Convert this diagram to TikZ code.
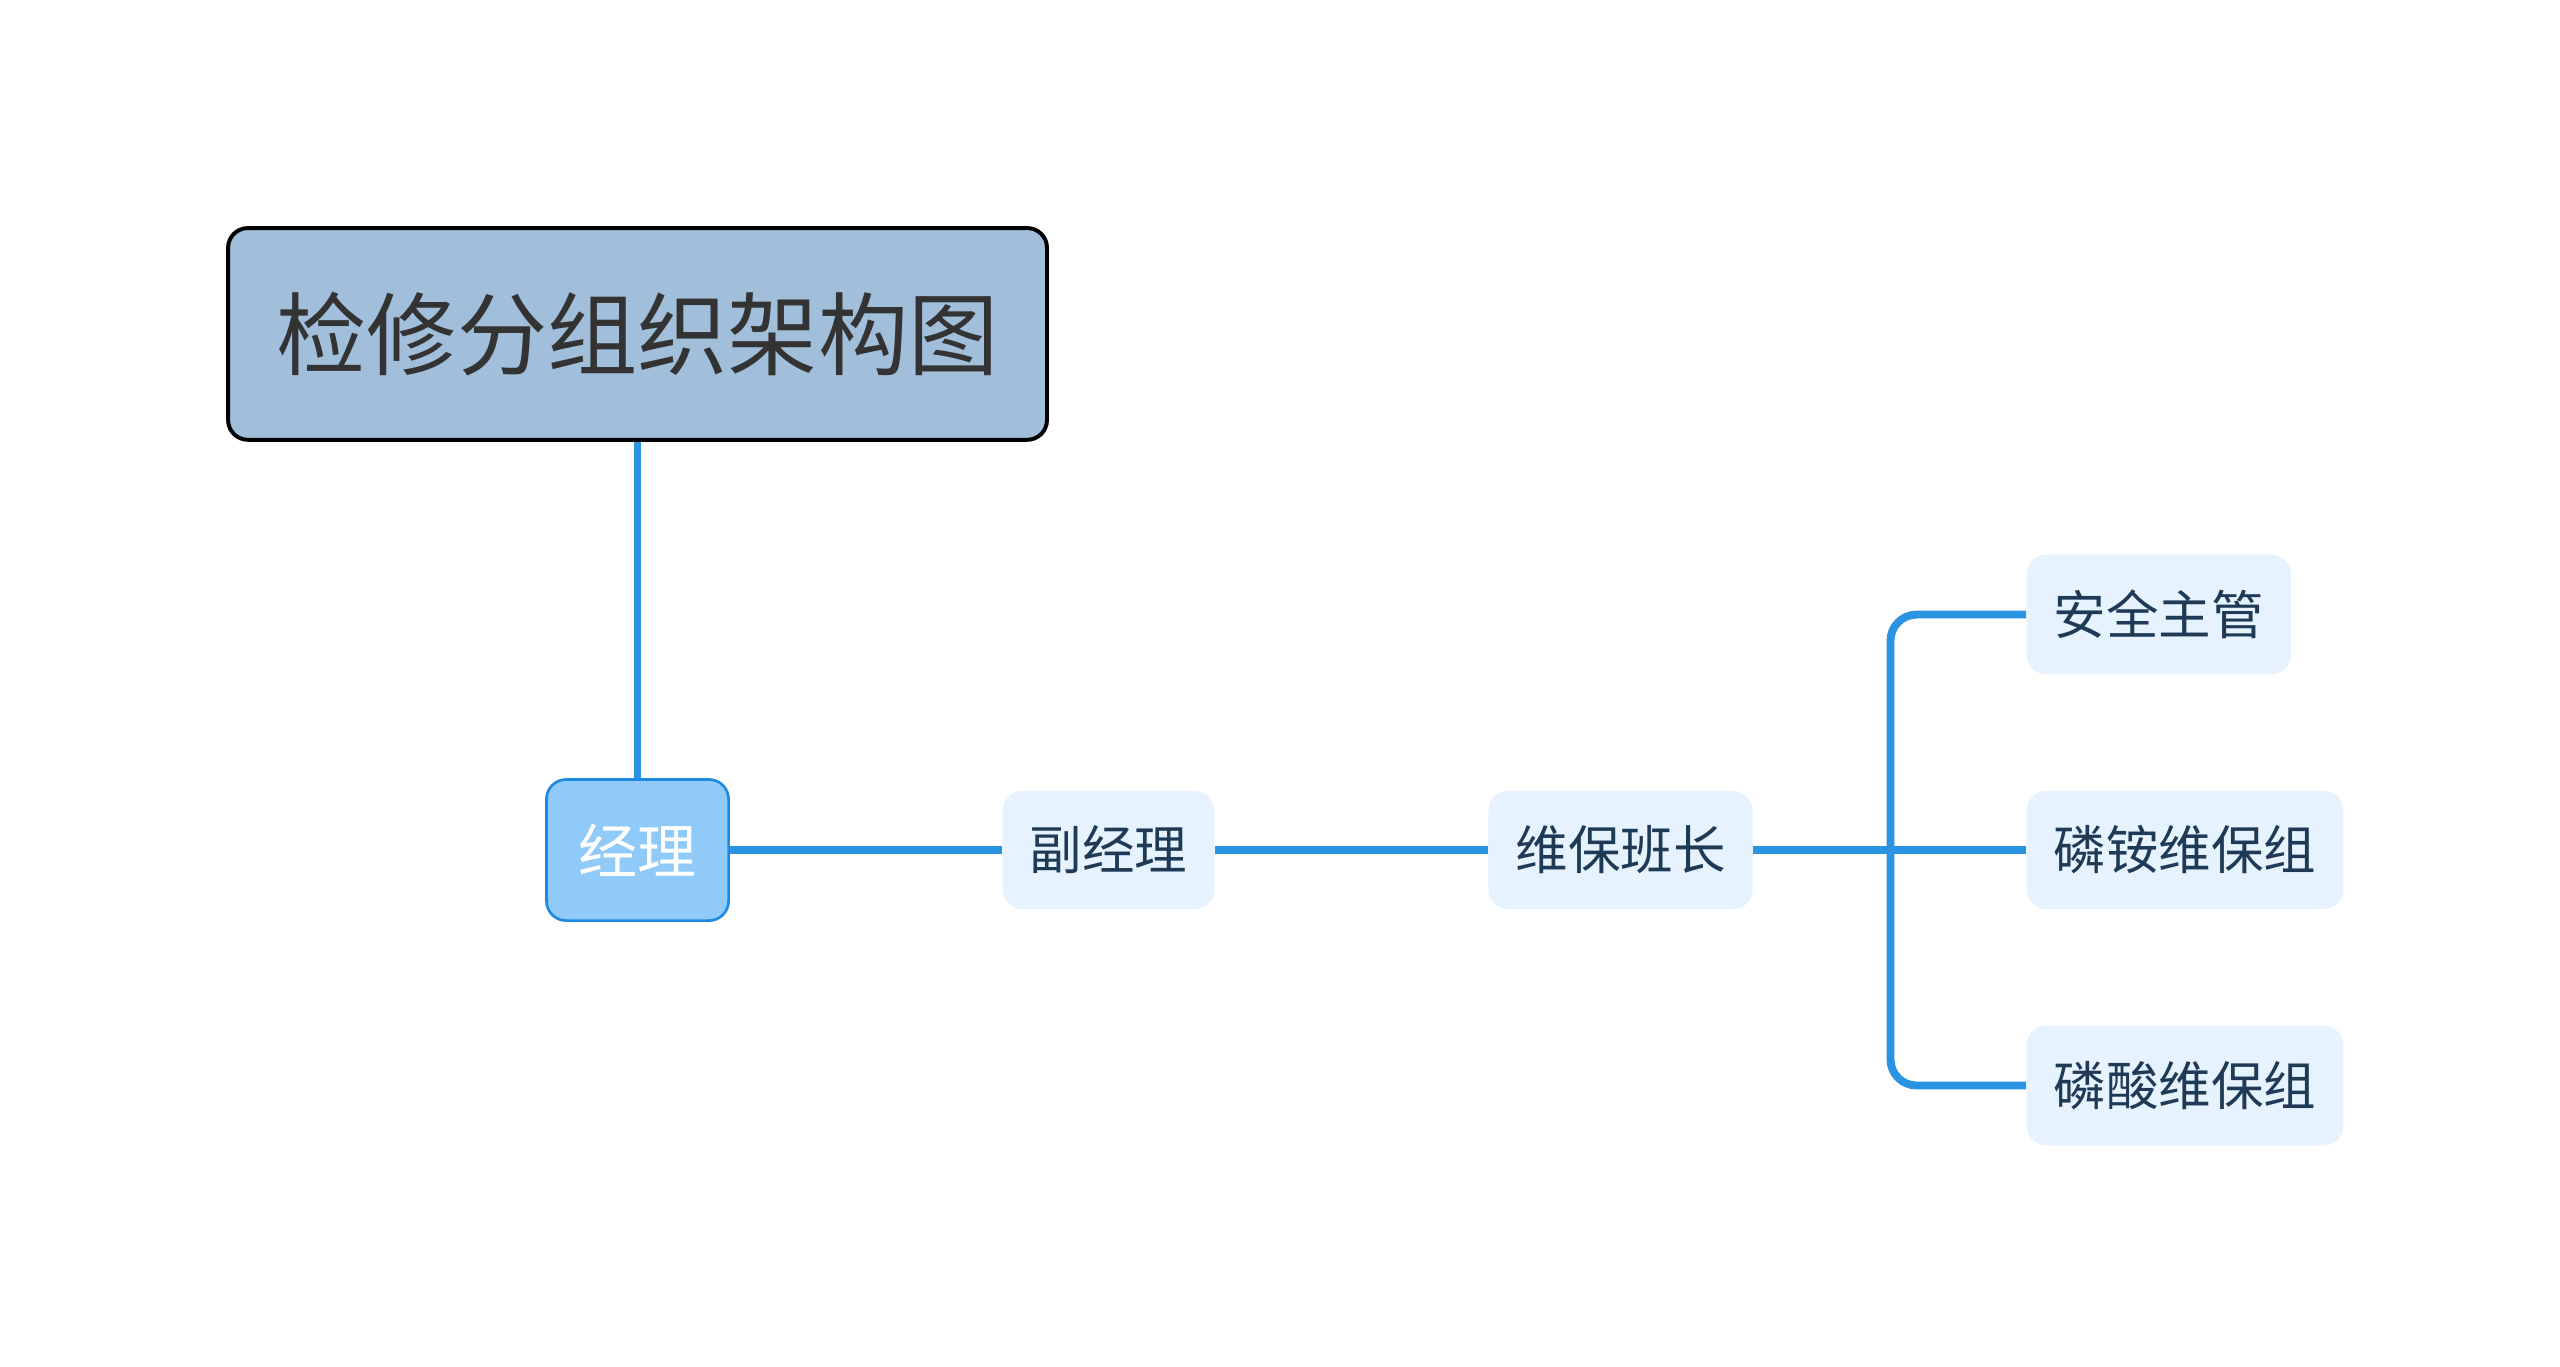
\documentclass[tikz,border=0pt]{standalone}
\usepackage{fontspec}
\newfontfamily\cjk{Noto Sans CJK SC}
\definecolor{lineblue}{HTML}{2A94E3}
\definecolor{titlefill}{HTML}{A1BFDB}
\definecolor{mgrfill}{HTML}{90CAF9}
\definecolor{mgrdraw}{HTML}{1E88E5}
\definecolor{leaffill}{HTML}{E6F2FD}
\definecolor{leaftext}{HTML}{1F3A56}
\begin{document}
\begin{tikzpicture}[x=0.5pt,y=-0.5pt,
  titlebox/.style={draw=black,line width=1.2pt,fill=titlefill,rounded corners=6pt,font=\cjk\fontsize{27.5}{30}\selectfont,text=black!80,inner sep=0pt},
  mgrbox/.style={draw=mgrdraw,line width=0.8pt,fill=mgrfill,rounded corners=6pt,font=\cjk\fontsize{18}{20}\selectfont,text=white,inner sep=0pt},
  leafbox/.style={fill=leaffill,rounded corners=6pt,font=\cjk\fontsize{16}{18}\selectfont,text=leaftext,inner sep=0pt},
  conn/.style={draw=lineblue,line width=2.4pt}]
\useasboundingbox (0,0) rectangle (1560,833);
\fill[white] (0,0) rectangle (1560,833);
\node[titlebox,minimum width=249.5pt,minimum height=64.5pt] (t) at (388.5,203.5) {检修分组织架构图};
\node[mgrbox,minimum width=55.5pt,minimum height=43pt] (m) at (388.5,518) {经理};
\node[leafbox,minimum width=64.5pt,minimum height=36pt] (f) at (675.5,518) {副经理};
\node[leafbox,minimum width=80.5pt,minimum height=36pt] (w) at (987.5,518) {维保班长};
\node[leafbox,minimum width=80.5pt,minimum height=36.5pt] (a) at (1315.5,374.5) {安全主管};
\node[leafbox,minimum width=96.5pt,minimum height=36pt] (b) at (1331.5,518) {磷铵维保组};
\node[leafbox,minimum width=96.5pt,minimum height=36.5pt] (c) at (1331.5,661.5) {磷酸维保组};
\coordinate (j) at (1152,518);
\draw[conn] (t.south) -- (m.north);
\draw[conn] (m.east) -- (f.west);
\draw[conn] (f.east) -- (w.west);
\draw[conn] (w.east) -- (b.west);
\draw[conn,rounded corners=8pt] (a.west) -| (j) |- (c.west);
\end{tikzpicture}
\end{document}
